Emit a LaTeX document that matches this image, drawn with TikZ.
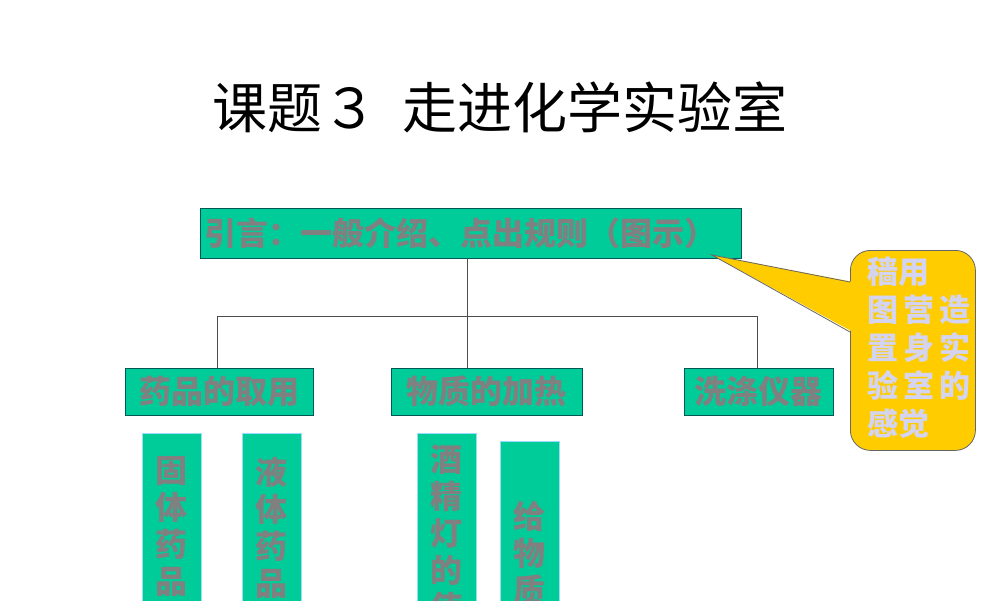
\documentclass[tikz,border=0pt]{standalone}
\usepackage{fontspec}
\newfontfamily\cjk{Noto Sans CJK SC}
\begin{document}
\begin{tikzpicture}[x=1pt,y=-1pt,
  box/.style={draw=teal!70!black,fill=boxg,inner sep=0pt},
  vbox/.style={fill=boxg,draw=cyan!40,inner sep=0pt},
  lbl/.style={text=txtg,font=\cjk\bfseries\fontsize{32}{36}\selectfont},
  vlbl/.style={text=txtg,anchor=north,align=center,font=\cjk\bfseries\fontsize{32}{37}\selectfont},
  ln/.style={draw=black!70,line width=0.8pt}]
\definecolor{boxg}{HTML}{00CC99}
\definecolor{txtg}{HTML}{808080}
\definecolor{callo}{HTML}{FFCC00}
\definecolor{lav}{HTML}{D4D4F0}
\useasboundingbox (0,0) rectangle (1000,600);
\clip (0,0) rectangle (1000,600);
\node (title) at (500,107) {\cjk\fontsize{55}{58}\selectfont 课题３\ \ 走进化学实验室};
\node[box,minimum width=541,minimum height=50] (top) at (470.5,233) {};
\node[lbl,anchor=west] (toptxt) at (201,233) {引言：一般介绍、点出规则（图示）};
\node[box,minimum width=188,minimum height=47] (b1) at (219,391.5) {};
\node[lbl] at (b1) {药品的取用};
\node[box,minimum width=191,minimum height=47] (b2) at (486.5,391.5) {};
\node[lbl] at (b2) {物质的加热};
\node[box,minimum width=149,minimum height=47] (b3) at (758.5,391.5) {};
\node[lbl] at (b3) {洗涤仪器};
\coordinate (j) at (467,316);
\coordinate (jl) at (217,316);
\coordinate (jr) at (757,316);
\draw[ln] (top.south -| j) -- (b2.north -| j);
\draw[ln] (b1.north -| jl) -- (jl) -- (jr) -- (b3.north -| jr);
\node[vbox,anchor=north west,minimum width=59,minimum height=200] (v1) at (142,433) {};
\node[vbox,anchor=north west,minimum width=59,minimum height=200] (v2) at (242,433) {};
\node[vbox,anchor=north west,minimum width=59,minimum height=200] (v3) at (417,433) {};
\node[vbox,anchor=north west,minimum width=59,minimum height=200] (v4) at (500,441) {};
\node[vlbl] at (171.5,453) {固\\体\\药\\品\\的\\取\\用};
\node[vlbl] at (271.5,453) {液\\体\\药\\品\\的\\取\\用};
\node[vlbl] at (446.5,441) {酒\\精\\灯\\的\\使\\用};
\node[vlbl] at (529.5,497) {给\\物\\质\\加\\热};
\node[draw=black!60,fill=callo,line width=0.8pt,rounded corners=20,minimum width=125,minimum height=200,anchor=north west] (call) at (850,250) {};
\coordinate (tip) at (712,255);
\coordinate (ca) at (850,282);
\coordinate (cb) at (850,332);
\fill[callo] (tip) -- ([xshift=3pt]ca) -- ([xshift=3pt]cb) -- cycle;
\draw[black!60,line width=0.8pt] (ca) -- (tip) -- (cb);
\node[anchor=north west,align=left,text=lav,font=\cjk\bfseries\fontsize{31}{38}\selectfont] (ct) at (864,253) {穑用\\图\,营\,造\\置\,身\,实\\验\,室\,的\\感觉};
\end{tikzpicture}
\end{document}
